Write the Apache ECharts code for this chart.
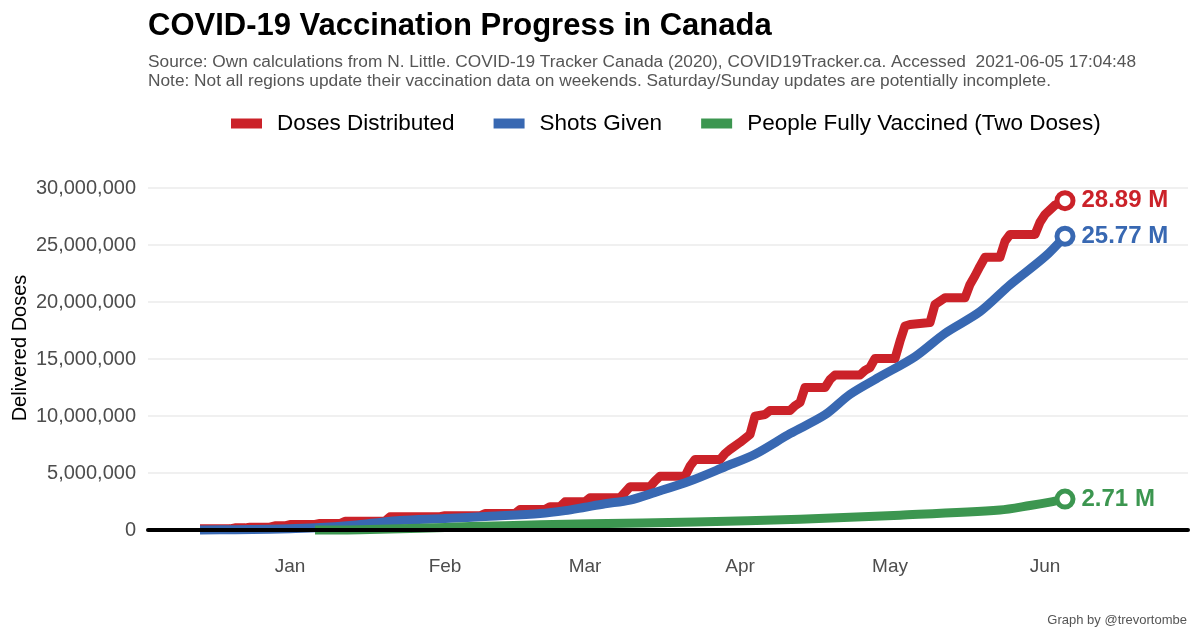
<!DOCTYPE html>
<html>
<head>
<meta charset="utf-8">
<script src="https://cdn.jsdelivr.net/npm/echarts@6/dist/echarts.min.js"></script>
<style>html,body{margin:0;padding:0;background:#fff}#c{width:1200px;height:640px}</style>
</head>
<body>
<div id="c"></div>
<script>
// ---------- DATA (values in millions) ----------
const seriesNames = ['Doses Distributed', 'Shots Given', 'People Fully Vaccined (Two Doses)'];
const monthLabels = ['Jan','Feb','Mar','Apr','May','Jun','Jul','Aug','Sep','Oct','Nov','Dec'];
const yTicks = [0, 5e6, 10e6, 15e6, 20e6, 25e6, 30e6];

const redDates = ['2020-12-14','2020-12-20','2020-12-21','2020-12-23','2020-12-24','2020-12-28','2020-12-29','2020-12-31',
 '2021-01-01','2021-01-06','2021-01-07','2021-01-11','2021-01-12','2021-01-20','2021-01-21','2021-01-31',
 '2021-02-01','2021-02-08','2021-02-09','2021-02-15','2021-02-16','2021-02-21','2021-02-22','2021-02-24','2021-02-25',
 '2021-03-01','2021-03-02','2021-03-08','2021-03-09','2021-03-10','2021-03-14','2021-03-15','2021-03-16','2021-03-21',
 '2021-03-22','2021-03-23','2021-03-28','2021-03-29','2021-03-30','2021-04-01','2021-04-03','2021-04-04','2021-04-06',
 '2021-04-07','2021-04-11','2021-04-12','2021-04-13','2021-04-14','2021-04-18','2021-04-19','2021-04-20','2021-04-25',
 '2021-04-26','2021-04-27','2021-04-28','2021-05-02','2021-05-03','2021-05-04','2021-05-05','2021-05-09','2021-05-10',
 '2021-05-12','2021-05-16','2021-05-17','2021-05-18','2021-05-19','2021-05-20','2021-05-23','2021-05-24','2021-05-25',
 '2021-05-30','2021-05-31','2021-06-01','2021-06-03','2021-06-04','2021-06-05'];
const redValues = [0.10,0.10,0.19,0.19,0.25,0.25,0.37,0.37,
 0.48,0.48,0.57,0.57,0.77,0.77,1.16,1.16,
 1.25,1.25,1.45,1.45,1.80,1.80,2.04,2.04,2.47,
 2.47,2.82,2.82,3.30,3.80,3.80,4.30,4.72,4.72,
 5.60,6.18,6.18,6.70,7.06,7.68,8.38,9.98,10.13,
 10.48,10.48,10.90,11.18,12.50,12.50,13.20,13.60,13.60,
 14.00,14.25,15.04,15.04,16.56,17.90,18.03,18.20,19.78,
 20.37,20.37,21.54,22.30,23.14,23.93,23.93,25.33,25.92,
 25.92,27.00,27.68,28.50,28.70,28.89];

const blueDates = ['2020-12-14','2020-12-21','2020-12-28','2021-01-01','2021-01-07','2021-01-13','2021-01-18','2021-01-23',
 '2021-02-01','2021-02-10','2021-02-20','2021-02-25','2021-03-01','2021-03-05','2021-03-10','2021-03-15','2021-03-22',
 '2021-03-29','2021-04-04','2021-04-11','2021-04-18','2021-04-23','2021-04-29','2021-05-06','2021-05-12','2021-05-19',
 '2021-05-25','2021-06-01','2021-06-05'];
const blueValues = [0.00,0.03,0.07,0.12,0.22,0.40,0.62,0.83,
 1.00,1.21,1.45,1.70,2.00,2.30,2.63,3.30,4.30,
 5.55,6.65,8.45,10.10,11.90,13.45,15.20,17.25,19.15,
 21.50,23.97,25.77];

const greenDates = ['2021-01-06','2021-01-15','2021-01-27','2021-02-06','2021-02-20','2021-03-02','2021-03-23',
 '2021-04-13','2021-05-03','2021-05-23','2021-05-29','2021-06-02','2021-06-05'];
const greenValues = [0.00,0.02,0.15,0.30,0.45,0.55,0.70,0.95,1.30,1.75,2.15,2.45,2.71];

// ---------- STYLE ----------
const RED = '#cb2229', BLUE = '#3868b2', GREEN = '#3c9650';
const DAY = 864e5;
const t0 = new Date(2021, 0, 1).getTime();
const FONT = 'Liberation Sans, Arial, sans-serif';

function pairs(dates, vals) { return dates.map((d, i) => [d, vals[i] * 1e6]); }
function last(arr) { return arr[arr.length - 1]; }

const lineBase = (name, color, data, smooth) => ({
  type: 'line', name, data, smooth, showSymbol: false, symbol: 'none', clip: false,
  lineStyle: { width: 9, color, cap: 'butt', join: 'round' },
  itemStyle: { color }, emphasis: { disabled: true }, z: 2
});

const chart = echarts.init(document.getElementById('c'));
chart.setOption({
  animation: false,
  textStyle: { fontFamily: FONT },
  title: [
    { text: 'COVID-19 Vaccination Progress in Canada', left: 143, top: 6,
      textStyle: { fontSize: 31, fontWeight: 'bold', color: '#000', fontFamily: FONT } },
    { text: 'Source: Own calculations from N. Little. COVID-19 Tracker Canada (2020), COVID19Tracker.ca. Accessed  2021-06-05 17:04:48',
      left: 143, top: 49, textStyle: { fontSize: 17.3, fontWeight: 'normal', color: '#555', fontFamily: FONT } },
    { text: 'Note: Not all regions update their vaccination data on weekends. Saturday/Sunday updates are potentially incomplete.',
      left: 143, top: 68, textStyle: { fontSize: 17.3, fontWeight: 'normal', color: '#555', fontFamily: FONT } }
  ],
  legend: {
    data: seriesNames, left: 226, top: 107, icon: 'rect', itemWidth: 31, itemHeight: 10, itemGap: 39,
    textStyle: { fontSize: 22.5, color: '#000', padding: [0, 0, 0, 10], fontFamily: FONT }
  },
  grid: { left: 148, right: 12, top: 188, bottom: 110 },
  xAxis: {
    type: 'time', z: 10,
    min: t0 - 28.4 * DAY, max: t0 + 179.6 * DAY,
    splitNumber: 7, minInterval: 28 * DAY, maxInterval: 31 * DAY,
    axisLine: { show: true, lineStyle: { color: '#000', width: 4 } },
    axisTick: { show: false }, splitLine: { show: false },
    axisLabel: { fontSize: 19, color: '#4d4d4d', margin: 27,
      formatter: v => monthLabels[new Date(v).getMonth()] }
  },
  yAxis: {
    type: 'value', min: yTicks[0], max: last(yTicks), interval: yTicks[1] - yTicks[0],
    axisLine: { show: false }, axisTick: { show: false },
    splitLine: { lineStyle: { color: '#ebebeb', width: 1.5 } },
    axisLabel: { fontSize: 20, color: '#4d4d4d', margin: 12, formatter: v => v.toLocaleString('en-US') }
  },
  graphic: [
    { type: 'text', x: 20, y: 348, rotation: Math.PI / 2,
      style: { text: 'Delivered Doses', fontSize: 20, fill: '#000', font: '20px ' + FONT, textAlign: 'center', textVerticalAlign: 'middle' } },
    { type: 'text', right: 13, top: 614,
      style: { text: 'Graph by @trevortombe', fill: '#555', font: '13px ' + FONT } }
  ],
  series: [
    lineBase(seriesNames[0], RED, pairs(redDates, redValues), false),
    lineBase(seriesNames[1], BLUE, pairs(blueDates, blueValues), 0.3),
    lineBase(seriesNames[2], GREEN, pairs(greenDates, greenValues), 0.3),
    {
      type: 'scatter', name: 'end', clip: false, z: 5, symbolSize: 16,
      itemStyle: { color: '#fff', borderWidth: 5, opacity: 1 },
      emphasis: { disabled: true },
      label: { show: true, position: 'right', distance: 6, fontSize: 24, fontWeight: 'bold', fontFamily: FONT, opacity: 1,
        formatter: p => (p.value[1] / 1e6).toFixed(2) + ' M' },
      data: [
        { value: [last(redDates), last(redValues) * 1e6], itemStyle: { borderColor: RED }, label: { color: RED } },
        { value: [last(blueDates), last(blueValues) * 1e6], itemStyle: { borderColor: BLUE }, label: { color: BLUE } },
        { value: [last(greenDates), last(greenValues) * 1e6], itemStyle: { borderColor: GREEN }, label: { color: GREEN } }
      ]
    }
  ]
});
</script>
</body>
</html>
